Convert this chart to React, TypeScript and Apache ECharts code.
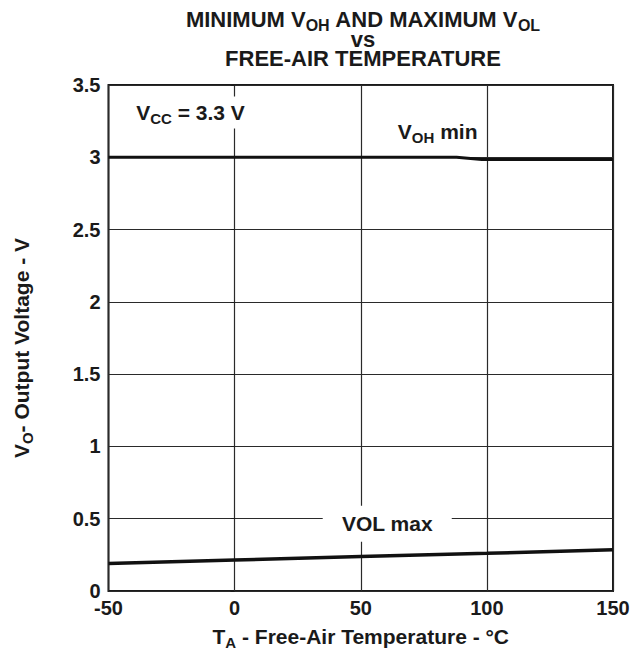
import React, { useEffect, useRef } from "react";
import * as echarts from "echarts";

const temps = [-50, 0, 50, 88, 98, 150];
const vohMin = [3.0, 3.0, 3.0, 3.0, 2.985, 2.985];
const volTemps = [-50, 0, 50, 100, 150];
const volMax = [0.19, 0.214, 0.238, 0.261, 0.285];
const xTicks = [-50, 0, 50, 100, 150];
const yTicks = [0, 0.5, 1, 1.5, 2, 2.5, 3, 3.5];

const FONT = "'Liberation Sans', Arial, Helvetica, sans-serif";
const INK = "#1a1a1a";

const subRich = (size: number, subSize: number, lh: number, subLh: number, drop: number) => ({
  b: { fontSize: size, fontWeight: "bold", fontFamily: FONT, color: INK, lineHeight: lh },
  s: {
    fontSize: subSize,
    fontWeight: "bold",
    fontFamily: FONT,
    color: INK,
    lineHeight: subLh,
    padding: [drop, 0, 0, 0],
  },
});

export default function App() {
  const ref = useRef<HTMLDivElement>(null);
  useEffect(() => {
    if (!ref.current) return;
    const chart = echarts.init(ref.current, undefined, { renderer: "svg" });
    const labelBox = (text: string, padding: number[]) => ({
      show: true,
      formatter: text,
      position: "inside",
      backgroundColor: "#ffffff",
      padding,
      rich: subRich(21, 15, 22, 15, 12),
    });
    const plainTitle = (text: string, top: number, lh: number) => ({
      text,
      left: 363,
      top,
      textAlign: "center",
      padding: 0,
      textStyle: { fontSize: 22, fontWeight: "bold", fontFamily: FONT, color: INK, lineHeight: lh },
    });
    chart.setOption({
      animation: false,
      backgroundColor: "#ffffff",
      title: [
        {
          text: "{b|MINIMUM V}{s|OH}{b| AND MAXIMUM V}{s|OL}",
          left: 363,
          top: 11,
          textAlign: "center",
          padding: 0,
          textStyle: { rich: subRich(22, 16, 16, 10, 12) },
        },
        plainTitle("vs", 33, 12),
        plainTitle("FREE-AIR TEMPERATURE", 50, 16),
      ],
      grid: {
        left: 108,
        right: 20,
        top: 85,
        bottom: 67,
        show: true,
        borderColor: INK,
        borderWidth: 2,
        backgroundColor: "transparent",
      },
      xAxis: {
        type: "value",
        min: -50,
        max: 150,
        interval: 50,
        axisLine: { show: false },
        axisTick: { show: false },
        axisLabel: {
          margin: 9,
          fontSize: 20,
          lineHeight: 16,
          fontWeight: "bold",
          fontFamily: FONT,
          color: INK,
          formatter: (v: number) => (xTicks.includes(v) ? String(v) : ""),
        },
        splitLine: { show: true, lineStyle: { color: "#2a2a2a", width: 1.2 } },
        name: "{b|T}{s|A}{b| - Free-Air Temperature - °C}",
        nameLocation: "middle",
        nameGap: 33,
        nameTextStyle: { rich: subRich(21, 15, 22, 15, 12) },
      },
      yAxis: {
        type: "value",
        min: 0,
        max: 3.5,
        interval: 0.5,
        axisLine: { show: false },
        axisTick: { show: true, length: 4, lineStyle: { color: INK, width: 1 } },
        axisLabel: {
          margin: 8,
          fontSize: 20,
          lineHeight: 16,
          fontWeight: "bold",
          fontFamily: FONT,
          color: INK,
          formatter: (v: number) => (yTicks.includes(v) ? String(v) : ""),
        },
        splitLine: { show: true, lineStyle: { color: "#2a2a2a", width: 1.2 } },
        name: "{b|V}{s|O}{b|- Output Voltage - V}",
        nameLocation: "middle",
        nameGap: 76,
        nameRotate: 90,
        nameTextStyle: { rich: subRich(21, 15, 22, 15, 12), padding: [0, 20, 0, 0] },
      },
      series: [
        {
          type: "line",
          name: "VOH min",
          data: temps.map((t, i) => [t, vohMin[i]]),
          showSymbol: false,
          lineStyle: { color: "#111", width: 3 },
          z: 3,
          markPoint: {
            symbol: "circle",
            symbolSize: 0,
            silent: true,
            data: [
              {
                coord: [-17.5, 3.31],
                label: labelBox("{b|V}{s|CC}{b| = 3.3 V}", [5, 4, 5, 4]),
              },
              {
                coord: [80.5, 3.18],
                label: labelBox("{b|V}{s|OH}{b| min}", [4, 5, 3, 5]),
              },
            ],
          },
        },
        {
          type: "line",
          name: "VOL max",
          data: volTemps.map((t, i) => [t, volMax[i]]),
          showSymbol: false,
          lineStyle: { color: "#111", width: 3.5 },
          z: 3,
          markPoint: {
            symbol: "circle",
            symbolSize: 0,
            silent: true,
            data: [
              {
                coord: [60.5, 0.465],
                label: labelBox("{b|VOL max}", [7, 19, 7, 19]),
              },
            ],
          },
        },
      ],
    });
    return () => chart.dispose();
  }, []);
  return <div ref={ref} style={{ width: 633, height: 658, position: "absolute", left: 0, top: 0 }} />;
}
